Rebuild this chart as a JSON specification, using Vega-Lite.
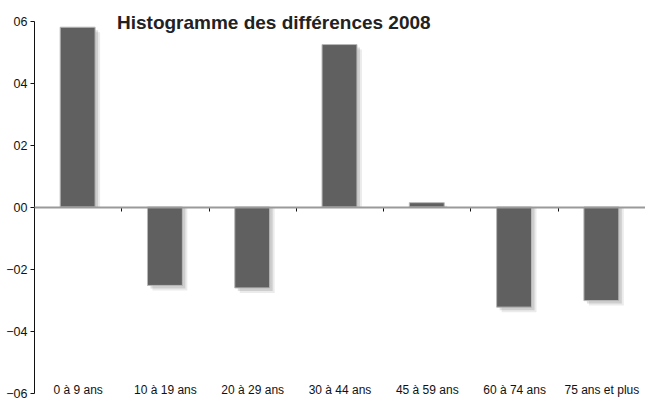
{
  "$schema": "https://vega.github.io/schema/vega-lite/v6.json",
  "autosize": "none",
  "width": 611,
  "height": 372,
  "padding": {"left": 34, "top": 21, "right": 0, "bottom": 8},
  "background": "white",
  "title": {
    "text": "Histogramme des différences 2008",
    "font": "Liberation Sans, Arial, sans-serif",
    "fontSize": 19,
    "fontWeight": "bold",
    "color": "#222222",
    "anchor": "start",
    "frame": "group",
    "baseline": "alphabetic",
    "dx": 83,
    "dy": 33,
    "offset": 0
  },
  "config": {
    "view": {"stroke": null},
    "font": "Liberation Sans, Arial, sans-serif"
  },
  "data": {
    "values": [
      {"groupe": "0 à 9 ans", "diff": 0.58},
      {"groupe": "10 à 19 ans", "diff": -0.253},
      {"groupe": "20 à 29 ans", "diff": -0.261},
      {"groupe": "30 à 44 ans", "diff": 0.524},
      {"groupe": "45 à 59 ans", "diff": 0.014},
      {"groupe": "60 à 74 ans", "diff": -0.323},
      {"groupe": "75 ans et plus", "diff": -0.302}
    ]
  },
  "encoding": {
    "x": {
      "field": "groupe",
      "type": "nominal",
      "sort": null,
      "scale": {"paddingInner": 0, "paddingOuter": 0},
      "axis": {
        "title": null,
        "orient": "bottom",
        "offset": -186,
        "labelAngle": 0,
        "labelFontSize": 12,
        "labelColor": "#111111",
        "labelPadding": 173,
        "labelFont": "Liberation Sans, Arial, sans-serif",
        "tickBand": "extent",
        "tickSize": 4,
        "tickColor": "#111111",
        "domainColor": "#9a9a9a",
        "domainWidth": 2,
        "grid": false,
        "zindex": 1
      }
    },
    "y": {
      "field": "diff",
      "type": "quantitative",
      "scale": {"domain": [-0.6, 0.6], "nice": false, "zero": false},
      "axis": {
        "title": null,
        "values": [-0.6, -0.4, -0.2, 0, 0.2, 0.4, 0.6],
        "labelExpr": "replace(format(datum.value, '.1f'), '.', '')",
        "labelFontSize": 12.5,
        "labelColor": "#111111",
        "labelPadding": 3,
        "labelFont": "Liberation Sans, Arial, sans-serif",
        "tickSize": 4,
        "tickColor": "#111111",
        "domainColor": "#111111",
        "grid": false
      }
    }
  },
  "layer": [
    {
      "mark": {"type": "bar", "width": {"band": 0.4}, "fill": "#000000", "opacity": 0.08, "xOffset": 5, "yOffset": 5},
      "encoding": {"y2": {"datum": 0}}
    },
    {
      "mark": {"type": "bar", "width": {"band": 0.4}, "fill": "#000000", "opacity": 0.12, "xOffset": 3, "yOffset": 3},
      "encoding": {"y2": {"datum": 0}}
    },
    {
      "mark": {"type": "bar", "width": {"band": 0.4}, "fill": "#606060", "stroke": "#b8b8b8", "strokeWidth": 1},
      "encoding": {"y2": {"datum": 0}}
    }
  ]
}
